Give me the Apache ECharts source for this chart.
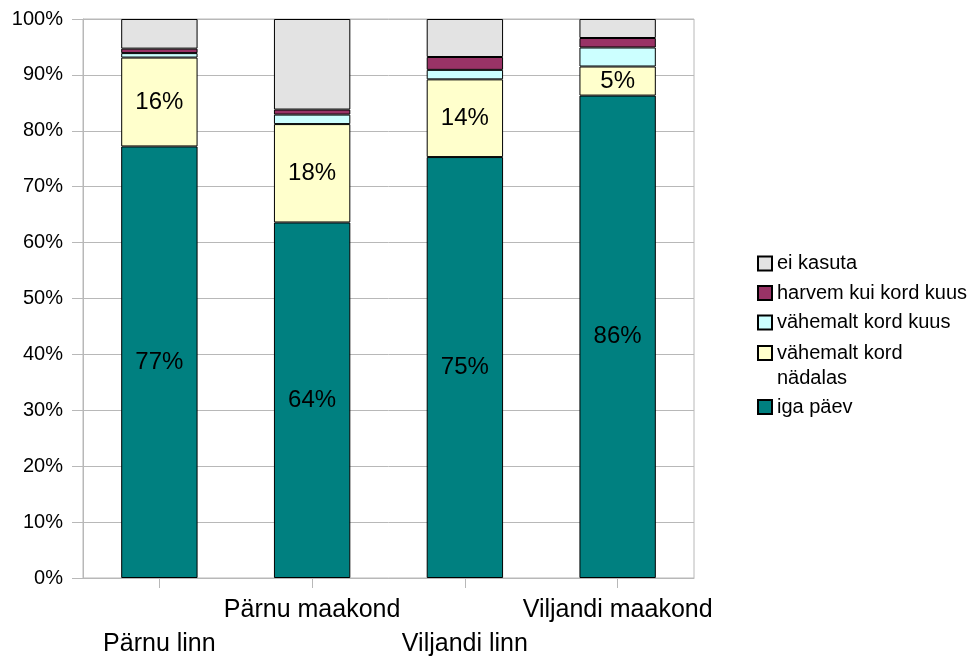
<!DOCTYPE html>
<html>
<head>
<meta charset="utf-8">
<script src="https://cdn.jsdelivr.net/npm/echarts@6/dist/echarts.min.js"></script>
<style>
html, body { margin: 0; padding: 0; background: #fff; }
#chart { width: 976px; height: 659px; }
</style>
</head>
<body>
<div id="chart"></div>
<script>
const categories = ['Pärnu linn', 'Pärnu maakond', 'Viljandi linn', 'Viljandi maakond'];
const igaPaev = [77.2, 63.6, 75.3, 86.3];
const nadalas = [15.9, 17.6, 13.9, 5.2];
const kuus = [0.8, 1.7, 1.7, 3.4];
const harvem = [0.8, 0.9, 2.3, 1.7];
const eiKasuta = [5.3, 16.2, 6.8, 3.4];
const yTicks = [0, 10, 20, 30, 40, 50, 60, 70, 80, 90, 100];

const FONT = 'Liberation Sans';
const GRID_GRAY = '#b8b8b8';

function mkSeries(name, data, color, showLabel) {
  return {
    name: name,
    type: 'bar',
    stack: 'total',
    barWidth: '50%',
    data: data,
    itemStyle: { color: color, borderColor: '#000', borderWidth: 1 },
    label: {
      show: showLabel,
      position: 'inside',
      color: '#000',
      fontFamily: FONT,
      fontSize: 24,
      formatter: p => Math.round(p.value) + '%'
    },
    emphasis: { disabled: true },
    animation: false
  };
}

const legendText = { fontFamily: FONT, fontSize: 20, lineHeight: 25, color: '#000' };

const chart = echarts.init(document.getElementById('chart'), null, { renderer: 'canvas' });
chart.setOption({
  backgroundColor: '#fff',
  animation: false,
  textStyle: { fontFamily: FONT },
  grid: {
    left: 83, right: 282, top: 19, bottom: 81,
    containLabel: false,
    outerBoundsMode: 'none',
    show: true, borderColor: GRID_GRAY, borderWidth: 1, backgroundColor: 'transparent'
  },
  legend: [
    {
      orient: 'vertical',
      left: 757, top: 251,
      padding: 0,
      icon: 'rect',
      itemWidth: 14, itemHeight: 14, itemGap: 4.5,
      selectedMode: false,
      textStyle: legendText,
      data: ['ei kasuta', 'harvem kui kord kuus', 'vähemalt kord kuus']
    },
    {
      orient: 'vertical',
      left: 757, top: 340.5,
      padding: 0,
      icon: 'path://M0,0L14,0L14,14L0,14Z M7,39L7.001,39',
      itemWidth: 14, itemHeight: 39,
      selectedMode: false,
      textStyle: legendText,
      formatter: name => name.replace(' nädalas', '\nnädalas'),
      data: ['vähemalt kord nädalas']
    },
    {
      orient: 'vertical',
      left: 757, top: 394.5,
      padding: 0,
      icon: 'rect',
      itemWidth: 14, itemHeight: 14,
      selectedMode: false,
      textStyle: legendText,
      data: ['iga päev']
    }
  ],
  xAxis: {
    type: 'category',
    data: categories,
    axisLine: { show: true, lineStyle: { color: GRID_GRAY } },
    axisTick: { show: true, alignWithLabel: true, length: 10, lineStyle: { color: GRID_GRAY } },
    axisLabel: {
      interval: 0,
      color: '#000',
      fontFamily: FONT,
      fontSize: 25,
      lineHeight: 34,
      margin: 15,
      formatter: (v, i) => (i % 2 === 0 ? '\n' + v : v)
    },
    splitLine: { show: false }
  },
  yAxis: {
    type: 'value',
    min: yTicks[0],
    max: yTicks[yTicks.length - 1],
    interval: yTicks[1] - yTicks[0],
    axisLine: { show: true, lineStyle: { color: GRID_GRAY } },
    axisTick: { show: true, length: 11, lineStyle: { color: GRID_GRAY } },
    axisLabel: { color: '#000', fontFamily: FONT, fontSize: 20, margin: 20, formatter: '{value}%' },
    splitLine: { show: true, lineStyle: { color: GRID_GRAY, width: 1 } }
  },
  series: [
    mkSeries('iga päev', igaPaev, '#008080', true),
    mkSeries('vähemalt kord nädalas', nadalas, '#ffffcc', true),
    mkSeries('vähemalt kord kuus', kuus, '#ccffff', false),
    mkSeries('harvem kui kord kuus', harvem, '#993366', false),
    mkSeries('ei kasuta', eiKasuta, '#e3e3e3', false)
  ]
});
</script>
</body>
</html>
